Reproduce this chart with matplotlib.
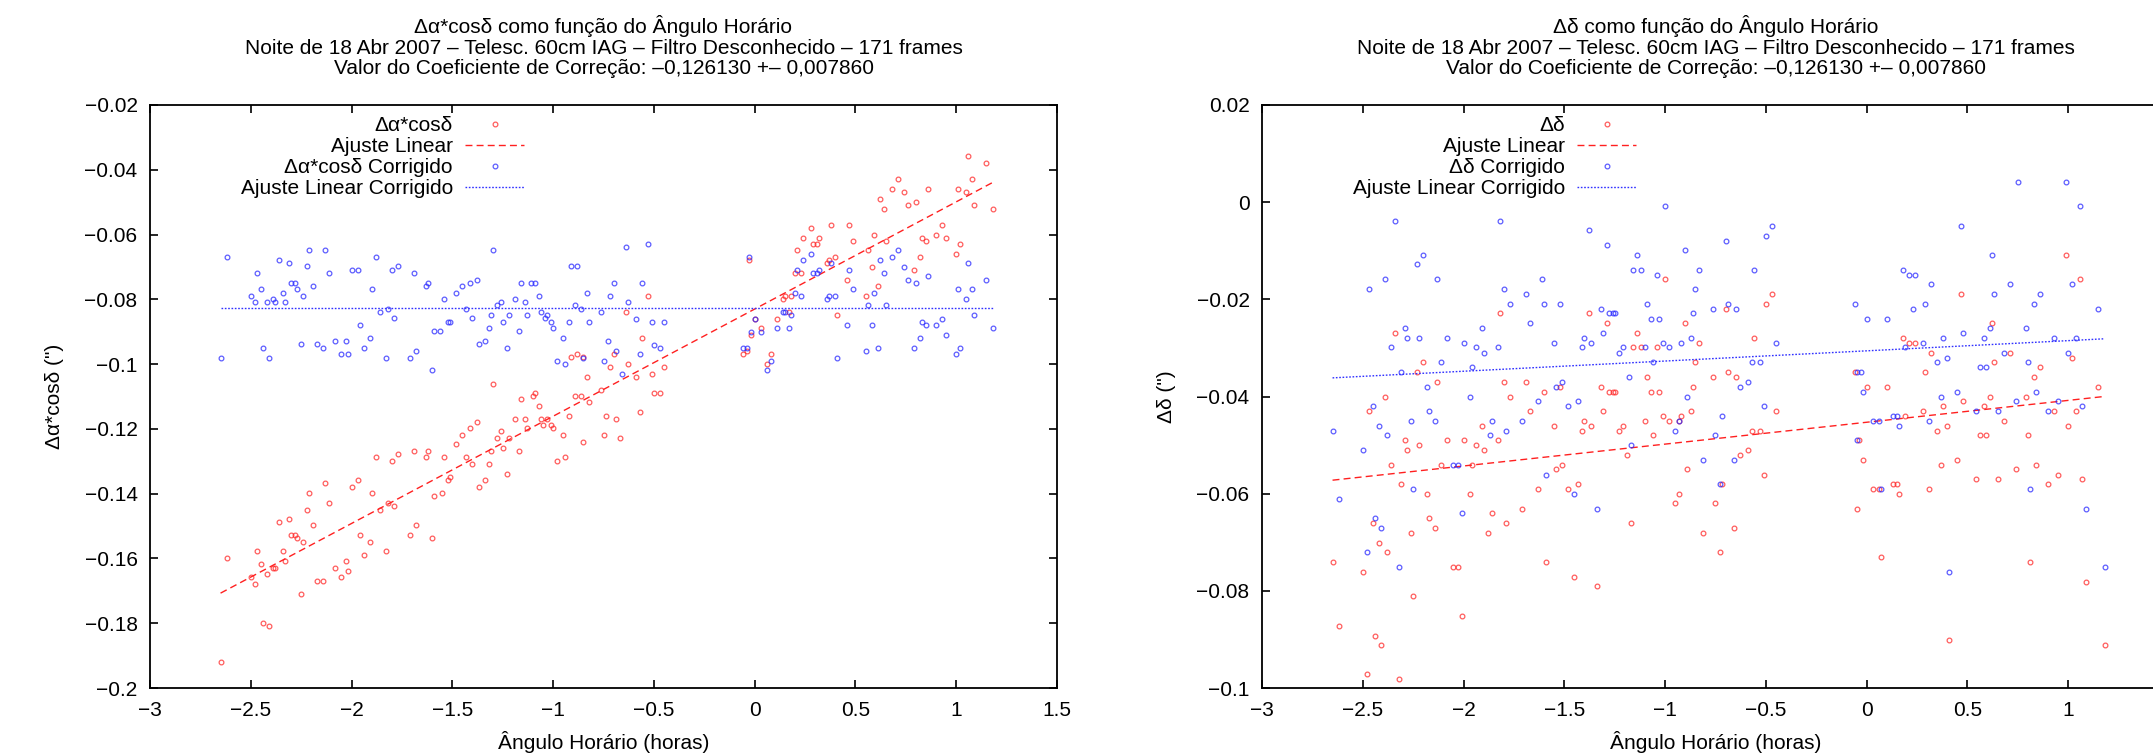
import numpy as np
import matplotlib
matplotlib.use("Agg")
import matplotlib.pyplot as plt
from matplotlib.ticker import FuncFormatter, MultipleLocator

plt.rcParams['font.family'] = ['Liberation Sans', 'DejaVu Sans']

# ---- left panel: delta alpha * cos(delta) ----
ra_x = [-2.65, -2.62, -2.50, -2.48, -2.47, -2.45, -2.44, -2.42, -2.41, -2.39,
        -2.38, -2.36, -2.34, -2.33, -2.31, -2.30, -2.28, -2.27, -2.25, -2.24,
        -2.22, -2.21, -2.19, -2.17, -2.14, -2.13, -2.11, -2.08, -2.05, -2.03,
        -2.02, -2.00, -1.97, -1.96, -1.94, -1.91, -1.90, -1.88, -1.86, -1.83,
        -1.82, -1.80, -1.79, -1.77, -1.71, -1.69, -1.68, -1.63, -1.62, -1.60,
        -1.59, -1.55, -1.54, -1.52, -1.51, -1.48, -1.45, -1.43, -1.40, -1.37,
        -1.34, -1.32, -1.31, -1.28, -1.26, -1.25, -1.23, -1.22, -1.17, -0.98,
        -0.95, -0.94, -0.85, -0.75, -0.67, -1.30, -1.16, -1.10, -1.09, -1.07,
        -0.91, -0.88, -0.85, -0.83, -0.89, -0.86, -0.82, -0.76, -0.72, -0.70,
        -0.74, -0.69, -0.92, -1.19, -1.14, -1.06, -1.03, -1.41, -1.38, -1.13,
        -1.05, -1.01, -1.00, -0.64, -0.63, -0.59, -0.57, -0.56, -0.53, -0.51,
        -0.50, -0.47, -0.45, -0.06, -0.04, -0.03, -0.02, 0.00, 0.03, 0.06,
        0.08, 0.11, 0.14, 0.15, 0.17, 0.18, 0.20, 0.21, 0.23, 0.24,
        0.28, 0.29, 0.31, 0.32, 0.36, 0.37, 0.38, 0.40, 0.41, 0.46,
        0.47, 0.49, 0.55, 0.56, 0.58, 0.59, 0.61, 0.62, 0.64, 0.65,
        0.68, 0.71, 0.74, 0.76, 0.79, 0.80, 0.82, 0.83, 0.85, 0.86,
        0.90, 0.93, 0.95, 1.00, 1.01, 1.02, 1.05, 1.06, 1.08, 1.09,
        1.15, 1.18]
ra_y = [-0.1920, -0.1600, -0.1658, -0.1679, -0.1578, -0.1618, -0.1798, -0.1648, -0.1808, -0.1629,
        -0.1629, -0.1488, -0.1578, -0.1608, -0.1479, -0.1528, -0.1528, -0.1538, -0.1709, -0.1549,
        -0.1449, -0.1399, -0.1498, -0.1669, -0.1669, -0.1368, -0.1429, -0.1629, -0.1658, -0.1608,
        -0.1639, -0.1378, -0.1359, -0.1528, -0.1589, -0.1549, -0.1399, -0.1288, -0.1449, -0.1578,
        -0.1429, -0.1298, -0.1439, -0.1278, -0.1528, -0.1269, -0.1498, -0.1288, -0.1269, -0.1538,
        -0.1408, -0.1399, -0.1288, -0.1359, -0.1349, -0.1248, -0.1218, -0.1288, -0.1309, -0.1378,
        -0.1359, -0.1309, -0.1269, -0.1229, -0.1208, -0.1259, -0.1339, -0.1229, -0.1269, -0.1298,
        -0.1218, -0.1288, -0.1239, -0.1218, -0.1229, -0.1060, -0.1109, -0.1098, -0.1088, -0.1129,
        -0.0979, -0.0969, -0.0979, -0.1039, -0.1098, -0.1098, -0.1118, -0.1079, -0.1008, -0.0969,
        -0.1159, -0.1168, -0.1159, -0.1168, -0.1168, -0.1168, -0.1168, -0.1198, -0.1178, -0.1198,
        -0.1189, -0.1189, -0.1198, -0.0839, -0.0999, -0.1039, -0.1149, -0.0919, -0.0790, -0.1029,
        -0.1088, -0.1088, -0.1009, -0.0969, -0.0959, -0.0680, -0.0909, -0.0860, -0.0889, -0.0999,
        -0.0969, -0.0860, -0.0799, -0.0789, -0.0839, -0.0789, -0.0719, -0.0649, -0.0719, -0.0610,
        -0.0580, -0.0630, -0.0630, -0.0610, -0.0689, -0.0680, -0.0569, -0.0670, -0.0849, -0.0740,
        -0.0569, -0.0620, -0.0789, -0.0649, -0.0700, -0.0600, -0.0760, -0.0490, -0.0520, -0.0620,
        -0.0460, -0.0430, -0.0470, -0.0510, -0.0710, -0.0500, -0.0670, -0.0610, -0.0620, -0.0460,
        -0.0600, -0.0569, -0.0610, -0.0660, -0.0460, -0.0630, -0.0470, -0.0359, -0.0430, -0.0510,
        -0.0380, -0.0520]

ra_corr_x = [-2.65, -2.62, -2.50, -2.48, -2.47, -2.45, -2.44, -2.42, -2.41, -2.39,
             -2.38, -2.36, -2.34, -2.33, -2.31, -2.30, -2.28, -2.27, -2.25, -2.24,
             -2.22, -2.21, -2.19, -2.17, -2.14, -2.13, -2.11, -2.08, -2.05, -2.03,
             -2.02, -2.00, -1.97, -1.96, -1.94, -1.91, -1.90, -1.88, -1.86, -1.83,
             -1.82, -1.80, -1.79, -1.77, -1.71, -1.69, -1.68, -1.63, -1.62, -1.60,
             -1.59, -1.56, -1.54, -1.52, -1.51, -1.48, -1.45, -1.43, -1.41, -1.40,
             -1.38, -1.37, -1.34, -1.32, -1.31, -1.30, -1.28, -1.26, -1.25, -1.23,
             -1.22, -1.19, -1.17, -1.16, -1.14, -1.13, -1.11, -1.09, -1.07, -1.06,
             -1.04, -1.03, -1.01, -1.00, -0.98, -0.95, -0.94, -0.92, -0.91, -0.89,
             -0.88, -0.86, -0.85, -0.83, -0.82, -0.76, -0.75, -0.73, -0.72, -0.70,
             -0.69, -0.66, -0.64, -0.63, -0.59, -0.57, -0.56, -0.53, -0.51, -0.50,
             -0.47, -0.45, -0.06, -0.04, -0.03, -0.02, 0.00, 0.03, 0.06, 0.08,
             0.11, 0.14, 0.15, 0.17, 0.18, 0.20, 0.21, 0.23, 0.24, 0.28,
             0.29, 0.31, 0.32, 0.36, 0.37, 0.38, 0.40, 0.41, 0.46, 0.47,
             0.49, 0.55, 0.56, 0.58, 0.59, 0.61, 0.62, 0.64, 0.65, 0.68,
             0.71, 0.74, 0.76, 0.79, 0.80, 0.82, 0.83, 0.85, 0.86, 0.90,
             0.93, 0.95, 1.00, 1.01, 1.02, 1.05, 1.06, 1.08, 1.09, 1.15,
             1.18]
ra_corr_y = [-0.0980, -0.0670, -0.0789, -0.0809, -0.0719, -0.0768, -0.0949, -0.0809, -0.0980, -0.0799,
             -0.0809, -0.0679, -0.0779, -0.0809, -0.0689, -0.0749, -0.0749, -0.0768, -0.0938, -0.0789,
             -0.0698, -0.0649, -0.0759, -0.0938, -0.0949, -0.0649, -0.0719, -0.0929, -0.0969, -0.0929,
             -0.0969, -0.0709, -0.0709, -0.0879, -0.0949, -0.0919, -0.0768, -0.0669, -0.0839, -0.0980,
             -0.0829, -0.0709, -0.0858, -0.0698, -0.0980, -0.0719, -0.0959, -0.0759, -0.0749, -0.1019,
             -0.0899, -0.0899, -0.0799, -0.0869, -0.0869, -0.0779, -0.0759, -0.0829, -0.0749, -0.0858,
             -0.0739, -0.0938, -0.0929, -0.0889, -0.0849, -0.0649, -0.0819, -0.0809, -0.0869, -0.0949,
             -0.0849, -0.0799, -0.0899, -0.0749, -0.0809, -0.0849, -0.0749, -0.0749, -0.0789, -0.0839,
             -0.0858, -0.0849, -0.0869, -0.0889, -0.0989, -0.0919, -0.0999, -0.0869, -0.0698, -0.0819,
             -0.0698, -0.0829, -0.0980, -0.0779, -0.0869, -0.0839, -0.0989, -0.0929, -0.0789, -0.0749,
             -0.0959, -0.1029, -0.0639, -0.0809, -0.0860, -0.0969, -0.0750, -0.0629, -0.0870, -0.0940,
             -0.0949, -0.0870, -0.0949, -0.0949, -0.0670, -0.0900, -0.0860, -0.0900, -0.1019, -0.0989,
             -0.0889, -0.0839, -0.0839, -0.0889, -0.0849, -0.0780, -0.0710, -0.0789, -0.0680, -0.0660,
             -0.0719, -0.0719, -0.0710, -0.0799, -0.0789, -0.0689, -0.0789, -0.0980, -0.0879, -0.0710,
             -0.0769, -0.0959, -0.0819, -0.0879, -0.0780, -0.0949, -0.0680, -0.0719, -0.0819, -0.0670,
             -0.0649, -0.0700, -0.0740, -0.0949, -0.0750, -0.0919, -0.0870, -0.0879, -0.0729, -0.0879,
             -0.0860, -0.0909, -0.0969, -0.0769, -0.0949, -0.0799, -0.0689, -0.0769, -0.0849, -0.0740,
             -0.0889]

# ---- right panel: delta delta ----
dec_x = [-2.47, -2.39, -2.34, -2.29, -2.23, -2.20, -2.13, -2.08, -2.00, -1.91,
         -1.83, -1.82, -1.80, -1.77, -1.69, -1.67, -1.60, -1.55, -1.52, -1.41,
         -1.40, -1.38, -1.37, -1.32, -1.31, -1.29, -1.28, -1.26, -1.25, -1.23,
         -1.21, -1.16, -1.14, -1.12, -1.10, -1.09, -1.07, -1.06, -1.04, -1.03,
         -1.01, -1.00, -0.98, -0.93, -0.92, -0.90, -0.87, -0.86, -0.85, -0.83,
         -0.76, -0.70, -0.69, -2.65, -2.62, -2.50, -2.48, -2.45, -2.44, -2.42,
         -2.41, -2.38, -2.36, -2.32, -2.31, -2.28, -2.26, -2.25, -2.22, -2.18,
         -2.17, -2.14, -2.11, -2.05, -2.03, -2.01, -1.97, -1.96, -1.94, -1.90,
         -1.88, -1.86, -1.79, -1.71, -1.63, -1.59, -1.54, -1.51, -1.48, -1.45,
         -1.43, -1.34, -1.19, -1.17, -0.95, -0.93, -0.89, -0.81, -0.75, -0.73,
         -0.72, -0.65, -0.57, -0.56, -0.53, -0.50, -0.47, -0.45, -0.06, 0.00,
         0.10, 0.18, 0.19, 0.21, 0.24, 0.28, 0.29, 0.32, 0.35, 0.38,
         0.40, 0.47, 0.48, 0.56, 0.58, 0.59, 0.61, 0.62, 0.63, 0.68,
         0.71, 0.79, 0.80, 0.83, 0.86, 0.93, 0.99, 1.00, 1.02, 1.04,
         1.06, 1.15, -0.63, -0.59, -0.51, -0.66, -0.04, -0.02, -0.05, 0.03,
         0.06, 0.13, 0.15, 0.16, 0.31, 0.37, 0.45, 0.54, 0.65, 0.74,
         0.84, 0.90, 0.95, 1.07, 0.07, 0.41, 0.81, 1.09, 1.18]
dec_y = [-0.0430, -0.0400, -0.0269, -0.0490, -0.0349, -0.0330, -0.0370, -0.0490, -0.0490, -0.0460,
         -0.0490, -0.0229, -0.0370, -0.0400, -0.0370, -0.0430, -0.0390, -0.0460, -0.0380, -0.0470,
         -0.0450, -0.0229, -0.0460, -0.0380, -0.0430, -0.0249, -0.0390, -0.0390, -0.0390, -0.0470,
         -0.0460, -0.0299, -0.0269, -0.0299, -0.0450, -0.0360, -0.0390, -0.0480, -0.0299, -0.0390,
         -0.0440, -0.0159, -0.0450, -0.0450, -0.0440, -0.0249, -0.0430, -0.0380, -0.0330, -0.0290,
         -0.0360, -0.0219, -0.0349, -0.0741, -0.0872, -0.0761, -0.0972, -0.0661, -0.0892, -0.0701,
         -0.0911, -0.0721, -0.0540, -0.0981, -0.0581, -0.0510, -0.0681, -0.0811, -0.0500, -0.0601,
         -0.0651, -0.0671, -0.0540, -0.0751, -0.0751, -0.0852, -0.0601, -0.0540, -0.0500, -0.0510,
         -0.0681, -0.0640, -0.0661, -0.0631, -0.0590, -0.0741, -0.0550, -0.0540, -0.0590, -0.0771,
         -0.0581, -0.0791, -0.0520, -0.0661, -0.0620, -0.0601, -0.0550, -0.0681, -0.0620, -0.0721,
         -0.0581, -0.0360, -0.0470, -0.0279, -0.0470, -0.0210, -0.0189, -0.0430, -0.0349, -0.0380,
         -0.0380, -0.0279, -0.0440, -0.0290, -0.0290, -0.0430, -0.0349, -0.0310, -0.0470, -0.0420,
         -0.0460, -0.0189, -0.0410, -0.0480, -0.0420, -0.0480, -0.0400, -0.0249, -0.0330, -0.0450,
         -0.0310, -0.0400, -0.0480, -0.0360, -0.0340, -0.0430, -0.0109, -0.0460, -0.0320, -0.0430,
         -0.0159, -0.0380, -0.0520, -0.0510, -0.0561, -0.0671, -0.0490, -0.0531, -0.0631, -0.0590,
         -0.0590, -0.0581, -0.0581, -0.0601, -0.0590, -0.0540, -0.0531, -0.0570, -0.0570, -0.0550,
         -0.0540, -0.0581, -0.0561, -0.0570, -0.0731, -0.0902, -0.0741, -0.0781, -0.0911]

dec_corr_x = [-2.65, -2.47, -2.45, -2.42, -2.39, -2.38, -2.36, -2.34, -2.31, -2.29,
              -2.28, -2.26, -2.23, -2.22, -2.20, -2.18, -2.17, -2.14, -2.13, -2.11,
              -2.08, -2.00, -1.97, -1.96, -1.94, -1.91, -1.90, -1.87, -1.86, -1.83,
              -1.82, -1.80, -1.79, -1.77, -1.71, -1.69, -1.67, -1.63, -1.61, -1.60,
              -1.55, -1.54, -1.52, -1.51, -1.48, -1.43, -1.41, -1.40, -1.38, -1.37,
              -1.32, -1.31, -1.29, -1.28, -1.26, -1.25, -1.23, -1.21, -1.18, -1.16,
              -1.14, -1.12, -1.10, -1.09, -1.07, -1.06, -1.04, -1.03, -1.01, -0.98,
              -0.95, -0.93, -0.92, -0.90, -0.89, -0.87, -0.86, -0.85, -0.83, -0.76,
              -0.75, -0.72, -0.70, -0.69, -1.00, -2.50, -2.62, -2.44, -2.41, -2.48,
              -2.32, -2.25, -2.05, -2.03, -2.01, -1.59, -1.45, -1.34, -1.17, -0.81,
              -0.73, -0.65, -0.63, -0.59, -0.57, -0.56, -0.53, -0.51, -0.50, -0.47,
              -0.45, -0.06, -0.05, -0.03, -0.02, 0.00, 0.03, 0.06, 0.10, 0.13,
              0.15, 0.16, 0.18, 0.19, 0.21, 0.23, 0.24, 0.28, 0.29, 0.31,
              0.32, 0.35, 0.37, 0.38, 0.40, 0.45, 0.47, 0.48, 0.54, 0.56,
              0.58, 0.59, 0.61, 0.62, 0.63, 0.65, 0.68, 0.71, 0.74, 0.75,
              0.79, 0.80, 0.83, 0.84, 0.86, 0.90, 0.93, 0.95, 0.99, 1.00,
              1.02, 1.04, 1.06, 1.07, 1.15, -0.05, -0.66, 0.07, 0.81, 1.09,
              0.41, 1.18]
dec_corr_y = [-0.0471, -0.0179, -0.0420, -0.0460, -0.0159, -0.0480, -0.0299, -0.0039, -0.0349, -0.0260,
              -0.0279, -0.0450, -0.0128, -0.0279, -0.0109, -0.0380, -0.0430, -0.0450, -0.0159, -0.0330,
              -0.0279, -0.0290, -0.0400, -0.0340, -0.0299, -0.0260, -0.0310, -0.0480, -0.0450, -0.0299,
              -0.0039, -0.0179, -0.0470, -0.0210, -0.0450, -0.0189, -0.0249, -0.0410, -0.0159, -0.0210,
              -0.0290, -0.0380, -0.0210, -0.0370, -0.0420, -0.0410, -0.0299, -0.0279, -0.0058, -0.0290,
              -0.0219, -0.0269, -0.0089, -0.0229, -0.0229, -0.0229, -0.0310, -0.0299, -0.0360, -0.0139,
              -0.0109, -0.0139, -0.0299, -0.0210, -0.0240, -0.0330, -0.0149, -0.0240, -0.0290, -0.0299,
              -0.0470, -0.0450, -0.0290, -0.0099, -0.0400, -0.0279, -0.0229, -0.0179, -0.0139, -0.0219,
              -0.0480, -0.0440, -0.0079, -0.0210, -0.0008, -0.0511, -0.0610, -0.0651, -0.0671, -0.0721,
              -0.0751, -0.0590, -0.0540, -0.0540, -0.0640, -0.0561, -0.0601, -0.0631, -0.0500, -0.0531,
              -0.0581, -0.0219, -0.0380, -0.0370, -0.0330, -0.0139, -0.0330, -0.0420, -0.0069, -0.0049,
              -0.0290, -0.0210, -0.0349, -0.0349, -0.0390, -0.0240, -0.0450, -0.0450, -0.0240, -0.0440,
              -0.0440, -0.0460, -0.0139, -0.0299, -0.0149, -0.0219, -0.0149, -0.0290, -0.0210, -0.0450,
              -0.0169, -0.0330, -0.0400, -0.0279, -0.0320, -0.0390, -0.0049, -0.0269, -0.0430, -0.0340,
              -0.0279, -0.0340, -0.0260, -0.0109, -0.0189, -0.0430, -0.0310, -0.0169, -0.0410, 0.0041,
              -0.0260, -0.0330, -0.0210, -0.0390, -0.0189, -0.0430, -0.0279, -0.0410, 0.0041, -0.0310,
              -0.0169, -0.0279, -0.0008, -0.0420, -0.0219, -0.0490, -0.0531, -0.0590, -0.0590, -0.0631,
              -0.0761, -0.0751]

# fitted lines (slope, intercept)
ra_fit = (0.0331, -0.0830)
ra_corr_fit = (0.0, -0.0827)
dec_fit = (0.0045, -0.0453)
dec_corr_fit = (0.0021, -0.0306)

# x tick values; the right panel is cut by the image edge past 1
ra_xticks = [-3, -2.5, -2, -1.5, -1, -0.5, 0, 0.5, 1, 1.5]
dec_xticks = [-3, -2.5, -2, -1.5, -1, -0.5, 0, 0.5, 1]

title_info = ("Noite de 18 Abr 2007 \u2013 Telesc. 60cm IAG \u2013 Filtro Desconhecido \u2013 171 frames\n"
              "Valor do Coeficiente de Corre\u00e7\u00e3o: \u20130,126130 +\u2013 0,007860")

panels = [
    dict(rect=[150 / 2153, 68 / 756, 907 / 2153, 583 / 756],
         x=ra_x, y=ra_y, xc=ra_corr_x, yc=ra_corr_y, fit=ra_fit, fitc=ra_corr_fit,
         ylim=(-0.2, -0.02), xticks=ra_xticks, name="\u0394\u03b1*cos\u03b4",
         ylabel="\u0394\u03b1*cos\u03b4 (\")"),
    dict(rect=[1262 / 2153, 68 / 756, 907 / 2153, 583 / 756],
         x=dec_x, y=dec_y, xc=dec_corr_x, yc=dec_corr_y, fit=dec_fit, fitc=dec_corr_fit,
         ylim=(-0.1, 0.02), xticks=dec_xticks, name="\u0394\u03b4",
         ylabel="\u0394\u03b4 (\")"),
]

red_pt = (1.0, 0.15, 0.15, 0.75)
blue_pt = (0.15, 0.15, 1.0, 0.75)


def fmt(v, pos):
    v = round(v, 6) + 0.0
    return ('%g' % v).replace('-', '\u2212')


fig = plt.figure(figsize=(21.53, 7.56), dpi=100)

for p in panels:
    ax = fig.add_axes(p['rect'])
    xs = np.array([min(p['x']), max(p['x'])])
    ax.plot(p['x'], p['y'], ls='none', marker='o', ms=3.4, mfc='none', mec=red_pt, mew=0.9,
            label=p['name'])
    ax.plot(xs, p['fit'][0] * xs + p['fit'][1], color='#ff2020', lw=1.0,
            ls=(0, (5, 3)), label='Ajuste Linear')
    ax.plot(p['xc'], p['yc'], ls='none', marker='o', ms=3.4, mfc='none', mec=blue_pt, mew=0.9,
            label=p['name'] + ' Corrigido')
    ax.plot(xs, p['fitc'][0] * xs + p['fitc'][1], color='#3030ff', lw=1.0,
            ls=(0, (1.2, 1.2)), label='Ajuste Linear Corrigido')

    ax.set_xlim(-3, 1.5)
    ax.set_ylim(*p['ylim'])
    ax.set_xticks(p['xticks'])
    ax.yaxis.set_major_locator(MultipleLocator(0.02))
    ax.xaxis.set_major_formatter(FuncFormatter(fmt))
    ax.yaxis.set_major_formatter(FuncFormatter(fmt))
    ax.tick_params(direction='in', length=6, width=1.2, top=True, right=True,
                   labelsize=15, pad=9, colors='black')
    for s in ax.spines.values():
        s.set_linewidth(1.3)

    ax.set_xlabel("\u00c2ngulo Hor\u00e1rio (horas)", fontsize=15, labelpad=8)
    ax.set_ylabel(p['ylabel'], fontsize=15, labelpad=15)
    ax.set_title(p['name'] + " como fun\u00e7\u00e3o do \u00c2ngulo Hor\u00e1rio\n" + title_info,
                 fontsize=15, linespacing=1.12, pad=22)

    ax.legend(loc='upper right', bbox_to_anchor=(0.412, 0.981), frameon=False,
              markerfirst=False, numpoints=1, handlelength=2.8, handletextpad=0.6,
              labelspacing=0.1, borderpad=0, borderaxespad=0, fontsize=15)

fig.savefig("out.png", dpi=100)
